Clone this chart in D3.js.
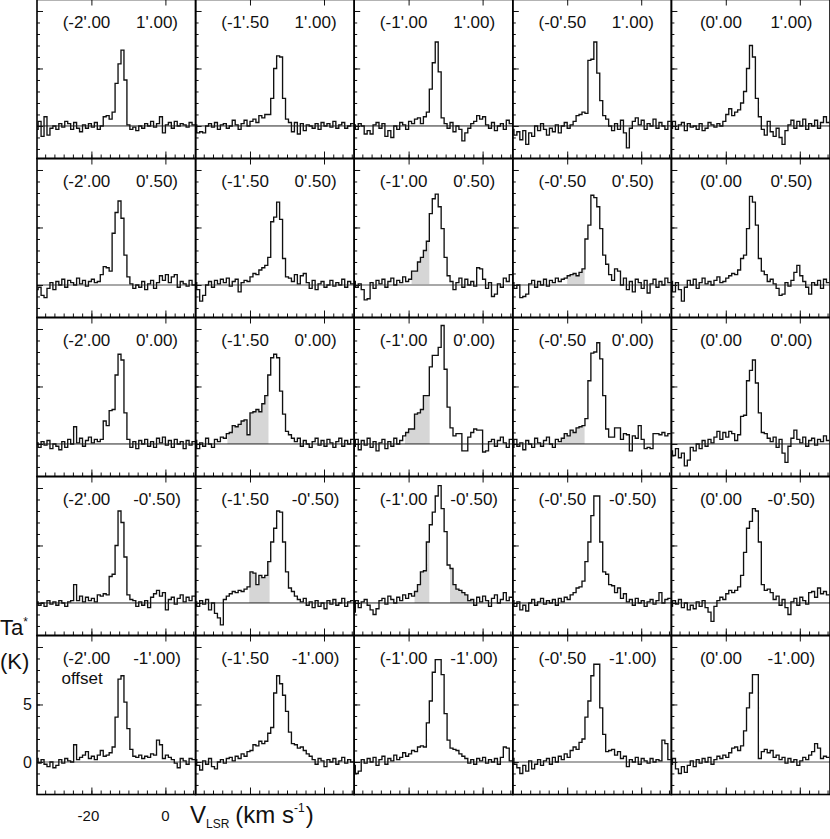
<!DOCTYPE html>
<html><head><meta charset="utf-8">
<script src="https://cdn.jsdelivr.net/npm/d3@7"></script>
<style>body{margin:0;background:#fff}svg{display:block}</style>
</head><body>
<svg id="chart" width="830" height="839"></svg>
<script>
// ---------------- data ----------------
const raOffsets  = ["-2'.00","-1'.50","-1'.00","-0'.50","0'.00"];   // columns
const decOffsets = ["1'.00","0'.50","0'.00","-0'.50","-1'.00"];     // rows
const chanStart = -34.8;   // km/s, centre of first channel
const chanWidth = 0.8;     // km/s
const xMajorTicks = [-20, 0];
const xTickLabels = ["-20", "0"];
const yMajorTicks = [0, 5, 10];
const yTickLabels = ["0", "5"];

const spectraDecP100 = [
 [-0.3,0.4,-0.9,0.8,-0.8,-0.2,0.0,-0.3,0.2,-0.1,0.4,0.2,-0.3,0.3,-0.2,-0.5,0.1,-0.2,0.2,-0.1,0.3,-0.3,0.0,0.8,0.9,0.6,1.2,3.7,5.4,6.6,4.0,0.1,-0.3,-0.1,-0.4,0.0,-0.2,0.2,0.0,0.4,-0.1,0.2,0.8,-0.6,0.1,0.3,-0.2,0.4,0.0,0.2,0.1,-0.1,0.3,0.1],
 [0.1,-0.6,-0.5,-0.6,0.0,0.2,-0.1,0.3,-0.3,0.1,0.2,-0.2,0.0,0.5,0.1,-0.3,0.2,0.5,0.0,0.4,0.6,0.3,0.9,0.7,1.0,1.0,2.4,5.0,6.1,6.0,2.4,0.6,0.3,-0.5,0.3,-0.7,0.2,-0.4,0.1,0.0,-0.2,0.2,-0.3,0.3,0.0,0.2,-0.1,0.4,-0.2,0.1,0.3,-0.2,0.0,0.2],
 [0.1,-0.3,0.2,0.0,-0.7,-0.4,-0.7,0.1,0.3,-0.2,0.2,-0.9,-0.4,-1.0,0.0,-0.3,0.3,0.1,-0.3,0.4,0.2,0.6,0.7,0.2,0.8,1.2,3.2,5.5,7.3,4.7,0.7,0.2,-0.2,0.3,-0.5,0.0,-0.3,-1.3,-0.6,-0.2,0.2,0.4,0.9,0.6,0.8,0.1,-0.2,0.3,-0.4,0.0,0.2,-0.3,0.5,0.2],
 [-0.3,-0.8,-0.5,-1.2,-0.4,-1.6,-0.6,-0.9,0.0,-0.4,0.2,-0.3,-0.8,-0.2,-0.5,0.1,-0.6,0.0,0.3,-0.2,0.1,0.4,0.9,1.0,1.2,1.1,5.7,5.8,7.3,4.6,2.2,0.9,0.6,0.0,-0.4,0.2,-0.3,0.5,-0.6,-1.9,-0.2,0.4,0.7,0.1,0.5,-0.3,0.2,0.0,0.6,-0.2,0.3,0.0,-0.3,0.4],
 [-0.2,0.4,-0.3,0.1,0.3,-0.4,0.2,-0.1,0.0,-0.3,0.2,-0.4,-0.2,0.3,0.1,-0.1,0.2,0.0,0.4,1.0,1.5,0.9,1.2,1.4,2.0,3.0,5.0,7.0,6.0,2.4,0.8,-0.3,-0.8,0.4,-0.5,-0.9,-0.2,-1.0,-1.6,-0.4,0.1,0.5,-0.2,0.4,0.0,0.6,-0.3,0.2,0.0,0.5,-0.2,0.3,0.8,0.3]
];
const spectraDecP050 = [
 [-0.4,-0.2,-0.9,-1.1,-0.3,0.2,-0.4,0.3,0.0,0.5,-0.2,0.4,0.2,0.0,0.6,0.1,0.4,-0.1,0.3,0.5,0.2,0.3,0.9,1.6,1.5,1.2,4.5,6.3,7.3,5.8,2.6,0.7,0.1,-0.3,0.0,-0.2,0.3,-0.4,0.1,0.4,-0.3,0.2,0.8,0.4,0.9,0.2,0.7,0.9,-0.2,0.3,0.1,-0.1,0.4,0.0],
 [0.2,-0.4,-1.4,-0.9,0.0,0.3,-0.2,0.4,0.1,0.5,0.2,0.6,-0.1,0.3,0.5,-0.6,0.2,0.4,0.3,0.7,1.0,0.9,1.3,1.5,1.7,2.4,5.5,5.9,7.2,5.7,2.3,0.7,0.6,0.3,0.9,0.1,0.8,1.0,0.2,-0.3,0.4,-0.4,0.1,0.3,-0.2,0.0,0.4,-0.1,0.2,0.0,0.5,-0.2,0.3,0.1],
 [0.3,-0.2,0.1,-0.4,-1.3,-1.2,0.2,-0.3,0.4,0.1,0.5,-0.2,0.3,0.6,0.0,0.4,0.2,0.7,0.3,0.5,1.2,1.2,2.0,2.4,3.0,3.8,6.2,7.5,7.9,6.8,4.9,2.4,0.8,0.3,-0.4,0.2,0.6,-0.2,0.5,0.0,0.3,-0.1,1.5,1.4,0.5,-0.3,0.2,-1.0,-0.8,0.1,-0.2,0.6,0.3,0.9],
 [0.2,-0.3,0.0,-1.1,-1.0,-0.8,0.1,0.4,-0.2,0.3,0.0,0.5,-0.1,0.4,0.2,0.6,0.3,0.5,0.6,0.8,0.9,1.0,0.8,1.1,1.4,4.0,5.2,7.8,7.6,6.8,4.9,2.6,1.8,0.9,0.4,1.4,1.2,0.0,0.6,-0.4,0.3,-0.6,0.5,0.2,-0.3,0.4,-0.7,0.1,0.5,-0.2,0.3,0.0,0.6,0.2],
 [0.3,-0.6,0.2,-0.4,-1.4,-0.2,0.4,0.0,0.5,-0.3,0.2,0.6,0.1,0.3,0.0,0.4,0.7,0.2,0.3,0.6,0.8,1.0,0.9,1.3,2.3,2.6,4.9,7.7,7.2,5.2,2.3,1.2,0.9,0.3,0.5,0.1,-0.3,-0.9,-0.8,0.2,-0.1,0.4,1.1,1.7,0.8,0.3,-0.2,-0.8,0.2,0.0,0.4,-0.3,0.5,0.2]
];
const spectraDec000 = [
 [0.1,-0.3,0.2,-0.1,0.3,-0.4,0.0,-0.2,-0.5,0.2,-0.3,0.4,0.0,1.5,0.1,0.5,-0.2,0.3,0.6,0.1,0.4,0.2,0.4,2.0,1.6,2.9,3.0,6.0,7.8,7.3,2.7,0.4,-0.3,0.2,-0.4,0.3,0.0,0.4,-0.2,0.2,-0.3,0.5,0.1,0.6,-0.1,0.3,-0.3,0.4,0.0,0.2,-0.4,0.3,-0.1,0.2],
 [0.3,-0.4,0.1,-0.2,0.5,0.0,-0.3,0.4,0.2,0.6,0.5,0.9,1.0,1.6,1.5,1.7,2.0,2.1,0.8,2.7,2.8,3.0,2.8,3.5,4.2,6.0,7.5,7.8,7.5,4.6,2.6,1.1,0.8,0.5,0.2,0.5,-0.2,0.3,0.0,-0.3,0.2,0.5,-0.1,0.3,-0.2,0.4,0.1,-0.3,0.2,0.5,-0.2,0.3,0.0,0.4],
 [-0.2,0.4,-0.5,0.3,-0.1,0.5,-0.3,0.2,-0.6,0.1,0.4,-0.4,0.2,-0.2,0.5,0.0,0.3,0.7,1.0,1.3,1.3,2.6,2.7,3.0,4.2,4.2,6.7,7.7,7.7,8.4,10.3,6.5,3.2,1.4,0.7,0.9,0.9,-0.6,-0.6,0.6,1.0,1.3,1.2,1.2,-0.7,-0.6,0.2,0.4,-0.2,0.3,0.6,0.1,-0.3,0.4],
 [-0.3,0.4,-0.2,0.1,-0.5,0.3,0.0,-0.3,0.5,0.1,-0.2,0.3,0.6,0.0,-0.3,0.4,0.2,0.5,0.9,0.7,1.2,1.0,1.4,1.5,1.6,2.2,5.5,7.9,8.0,8.8,7.4,4.2,1.3,0.6,0.6,1.4,1.4,0.4,0.9,0.8,-0.6,0.7,0.5,1.6,0.4,-0.4,-0.3,-0.4,0.9,0.9,0.8,1.0,0.7,0.9],
 [-0.6,-1.0,-0.4,-1.2,-0.8,-1.9,-1.4,-0.3,-0.6,0.0,-0.4,0.3,-0.2,0.4,0.1,0.6,1.1,0.4,1.0,0.6,1.1,0.9,0.3,0.8,2.4,2.5,5.5,6.4,7.3,5.3,2.7,1.0,0.9,0.5,0.2,0.6,-0.3,0.4,-0.8,-1.6,-0.2,0.5,1.2,0.4,0.1,0.6,-0.2,0.3,0.5,-0.1,0.4,0.2,0.7,0.3]
];
const spectraDecM050 = [
 [0.1,-0.2,0.0,-0.3,0.2,-0.1,0.1,-0.2,0.2,0.0,-0.3,0.1,0.2,1.6,0.2,0.6,0.1,0.5,0.2,0.4,0.1,0.7,0.6,0.8,0.7,2.3,2.5,5.0,8.0,7.0,4.0,0.7,0.3,0.2,-0.3,0.1,-0.2,0.2,-0.4,0.5,0.8,1.1,0.6,0.9,-0.6,0.3,0.5,-0.1,0.4,0.7,0.1,0.5,0.2,0.6],
 [0.1,-0.3,0.2,-0.1,0.3,-0.6,0.0,-0.9,-1.3,-1.9,0.3,0.6,0.8,1.0,0.9,1.1,1.0,1.2,1.4,2.7,2.6,1.6,2.4,2.2,2.4,3.6,5.3,6.5,8.0,7.9,5.3,2.7,1.3,1.0,0.6,0.3,0.1,0.4,-0.2,0.1,-0.4,0.2,-0.3,0.0,-0.5,0.2,-0.1,0.3,-0.2,0.0,0.4,-0.3,0.1,0.2],
 [-0.8,0.2,-0.4,0.1,0.3,-0.2,-0.6,-1.0,-0.5,0.2,0.4,-0.1,0.6,0.3,0.0,0.5,0.2,0.7,0.4,0.8,0.6,1.0,1.6,2.7,2.8,5.3,6.8,7.9,9.3,10.2,8.2,6.2,3.3,3.0,1.6,1.2,1.1,0.9,0.7,0.2,0.3,-0.2,0.5,0.1,0.6,0.2,-0.3,0.4,0.7,0.0,0.3,0.9,0.2,0.5],
 [0.2,-0.3,0.1,-0.6,-0.2,-0.7,0.0,0.3,-0.2,0.1,0.4,-0.1,0.2,0.0,0.3,-0.2,0.4,0.1,0.5,0.3,0.7,0.9,1.3,1.4,1.9,3.6,5.3,7.6,9.3,9.3,5.3,2.7,2.5,1.6,1.5,0.9,1.3,0.4,0.8,0.1,0.3,-0.2,0.4,0.0,0.2,-0.3,0.1,0.3,-0.1,0.2,0.9,0.0,0.3,0.4],
 [-0.3,0.2,-0.1,0.3,-0.4,0.0,-0.6,-0.2,-0.5,0.1,-0.3,0.2,-0.4,-0.8,-1.6,-0.3,0.2,0.5,0.3,0.8,1.1,0.9,1.1,1.4,2.4,4.4,6.5,7.1,8.2,8.0,5.3,1.6,1.1,1.2,0.9,0.3,0.6,-0.2,0.3,-0.4,-1.0,0.1,0.4,-0.2,0.5,0.2,-0.1,0.9,1.0,0.5,1.3,0.8,1.0,0.7]
];
const spectraDecM100 = [
 [0.3,-0.1,0.2,-0.2,-0.4,0.0,-0.5,-0.3,0.2,-0.1,0.3,0.1,0.0,1.5,0.2,0.4,0.6,0.9,0.3,0.5,0.2,0.6,1.0,0.5,0.6,0.8,1.3,3.9,7.2,7.5,5.2,2.9,1.1,0.5,0.4,0.6,0.3,0.5,0.4,0.7,0.6,1.9,1.5,0.3,0.6,0.4,0.2,-0.1,-0.5,0.3,0.1,-0.2,0.3,0.2],
 [0.2,-0.3,-0.7,0.1,-0.2,0.3,-0.4,-0.6,0.0,0.2,-0.1,0.3,0.4,0.1,0.5,0.3,0.7,0.5,0.9,1.0,1.5,1.4,1.8,1.6,1.8,2.5,3.0,6.0,7.5,6.8,5.8,4.4,2.6,1.6,1.5,1.2,1.3,1.0,0.7,0.5,0.2,-0.2,0.3,0.1,-0.4,0.2,0.0,0.3,-0.2,0.1,0.4,-0.1,0.2,0.0],
 [-0.3,-1.0,-0.8,0.2,-0.1,0.3,0.0,0.4,-0.3,0.2,0.5,-0.2,0.3,0.1,0.6,0.2,0.4,0.8,0.5,0.7,1.0,0.9,1.3,1.4,1.3,3.4,5.3,7.8,8.9,8.9,7.6,4.2,1.9,1.2,1.1,1.0,0.7,0.5,0.3,-0.1,0.2,-0.2,0.3,0.1,0.4,-0.1,0.2,0.0,0.3,-0.2,0.4,1.3,1.2,0.1],
 [0.3,-0.2,-0.5,-1.0,-0.3,-0.8,0.1,-0.6,-0.2,0.2,-0.3,0.1,0.3,-0.2,0.4,0.0,0.5,0.2,0.7,0.4,1.0,1.3,1.1,1.7,2.0,3.9,5.3,7.5,8.5,8.5,4.7,2.4,0.9,1.0,1.1,0.6,0.9,0.3,0.5,-0.4,0.2,0.0,0.4,-0.2,0.3,0.1,-0.1,0.3,0.0,0.2,0.1,1.9,1.6,0.2],
 [-0.2,0.3,-0.6,-1.0,-0.4,-0.9,-0.3,0.1,-0.4,0.2,-0.1,0.3,0.0,0.4,-0.2,0.2,0.5,0.3,0.6,0.4,0.8,1.2,1.3,1.0,1.4,2.7,4.7,6.0,7.6,7.6,0.3,0.9,1.1,0.8,1.0,0.4,0.6,0.2,0.4,-0.1,0.3,0.0,0.2,-0.3,0.1,0.4,0.2,0.6,0.9,1.6,1.2,0.3,0.5,0.4]
];
const spectraRows = [spectraDecP100, spectraDecP050, spectraDec000, spectraDecM050, spectraDecM100];

// shaded (integrated) wing velocity ranges, km/s
const shadedWings = [
 {row:1, col:2, from:-19.2, to:-14.4},
 {row:1, col:3, from:-20.0, to:-15.3},
 {row:2, col:1, from:-26.1, to:-15.0},
 {row:2, col:2, from:-21.0, to:-14.3},
 {row:2, col:3, from:-21.6, to:-15.3},
 {row:3, col:1, from:-20.2, to:-14.7},
 {row:3, col:2, from:-18.4, to:-14.4},
 {row:3, col:2, from:-8.8,  to:-2.6}
];
const baselineStyle = ["dark","grey","dark","dark","grey"];

// ---------------- layout ----------------
const gridLeft = 37, gridTop = -0.5, panelW = 158.6, panelH = 159;
const FONT = "'Liberation Sans', Arial, Helvetica, sans-serif";
const svg = d3.select("#chart");
const x = d3.scaleLinear().domain([-34.7, 8.16]).range([0, panelW]);
const y = d3.scaleLinear().domain([-2.83, 11.0]).range([panelH, 0]);

const defs = svg.append("defs");
defs.append("clipPath").attr("id","panelClip").append("rect")
  .attr("x",0).attr("y",0).attr("width",panelW).attr("height",panelH);

const stepLine = d3.line().x(d=>x(d.v)).y(d=>y(d.t)).curve(d3.curveStepAfter);
const stepArea = d3.area().x(d=>x(d.v)).y0(y(0)).y1(d=>y(d.t)).curve(d3.curveStepAfter);

function toPoints(vals){
  const pts = vals.map((t,i)=>({v: chanStart + i*chanWidth - chanWidth/2, t}));
  pts.push({v: chanStart + (vals.length-1)*chanWidth + chanWidth/2, t: vals[vals.length-1]});
  return pts;
}

const minorX = d3.range(-32.5, 8, 2.5);
const minorY = d3.range(-2, 11, 1);
let clipId = 0;

spectraRows.forEach((rowSpectra, r) => {
  rowSpectra.forEach((vals, c) => {
    const g = svg.append("g").attr("transform",`translate(${gridLeft + c*panelW},${gridTop + r*panelH})`);
    const pts = toPoints(vals);
    const inner = g.append("g").attr("clip-path","url(#panelClip)");
    shadedWings.filter(s=>s.row===r && s.col===c).forEach(s=>{
      const id = "wing"+(clipId++);
      defs.append("clipPath").attr("id",id).append("rect")
        .attr("x",x(s.from)).attr("y",0).attr("width",x(s.to)-x(s.from)).attr("height",panelH);
      inner.append("path").attr("d",stepArea(pts)).attr("fill","#d6d6d6")
        .attr("clip-path",`url(#${id})`);
    });
    const dark = baselineStyle[r]==="dark";
    inner.append("line").attr("x1",0).attr("x2",panelW).attr("y1",y(0)).attr("y2",y(0))
      .attr("stroke", dark ? "#222" : "#a8a8a8").attr("stroke-width", dark ? 1 : 2);
    inner.append("path").attr("d",stepLine(pts)).attr("fill","none")
      .attr("stroke","#111").attr("stroke-width",1.35).attr("stroke-linejoin","miter");

    const bMinor = g.append("g").attr("transform",`translate(0,${panelH})`)
      .call(d3.axisTop(x).tickValues(minorX).tickSize(4).tickFormat(""));
    const bMajor = g.append("g").attr("transform",`translate(0,${panelH})`)
      .call(d3.axisTop(x).tickValues(xMajorTicks).tickSize(7).tickFormat(""));
    const tMajor = g.append("g")
      .call(d3.axisBottom(x).tickValues(xMajorTicks).tickSize(6).tickFormat(""));
    const lMinor = g.append("g")
      .call(d3.axisRight(y).tickValues(minorY).tickSize(3).tickFormat(""));
    const lMajor = g.append("g")
      .call(d3.axisRight(y).tickValues(yMajorTicks).tickSize(6).tickFormat(""));
    [bMinor,bMajor,tMajor,lMinor,lMajor].forEach(a=>{
      a.select(".domain").remove();
      a.selectAll("line").attr("stroke","#111").attr("stroke-width",1);
    });

    g.append("rect").attr("x",0).attr("y",0).attr("width",panelW).attr("height",panelH)
      .attr("fill","none").attr("stroke","#000").attr("stroke-width",1.6);

    g.append("text").attr("x",49.5).attr("y",28).attr("text-anchor","middle")
      .attr("font-family",FONT).attr("font-size",17).attr("fill","#111")
      .text("(" + raOffsets[c]);
    g.append("text").attr("x",120).attr("y",28).attr("text-anchor","middle")
      .attr("font-family",FONT).attr("font-size",17).attr("fill","#111")
      .text(decOffsets[r] + ")");
    if (r===4 && c===0) {
      g.append("text").attr("x",24.5).attr("y",48)
        .attr("font-family",FONT).attr("font-size",17).attr("fill","#111").text("offset");
      yTickLabels.forEach(lbl=>{
        g.append("text").attr("x",-5).attr("y",y(+lbl)+6).attr("text-anchor","end")
          .attr("font-family",FONT).attr("font-size",16).attr("fill","#111").text(lbl);
      });
      xTickLabels.forEach((lbl,i)=>{
        g.append("text").attr("x",x(xMajorTicks[i]) - (i===0?3:0)).attr("y",panelH+26)
          .attr("text-anchor","middle").attr("font-family",FONT).attr("font-size",15)
          .attr("fill","#111").text(lbl);
      });
    }
  });
});

const yT = svg.append("text").attr("x",0).attr("y",635).attr("font-family",FONT)
  .attr("font-size",22).attr("fill","#111");
yT.append("tspan").text("Ta");
yT.append("tspan").attr("font-size",12).attr("dy",-9).text("*");
svg.append("text").attr("x",0).attr("y",669).attr("font-family",FONT)
  .attr("font-size",22).attr("fill","#111").text("(K)");

const xT = svg.append("text").attr("x",190).attr("y",823).attr("font-family",FONT)
  .attr("font-size",24).attr("fill","#111");
xT.append("tspan").text("V");
xT.append("tspan").attr("font-size",12).attr("dy",5).text("LSR");
xT.append("tspan").attr("dy",-5).attr("dx",6).text("(km s");
xT.append("tspan").attr("font-size",12).attr("dy",-11).text("-1");
xT.append("tspan").attr("dy",11).attr("dx",1).text(")");
</script>
</body></html>
